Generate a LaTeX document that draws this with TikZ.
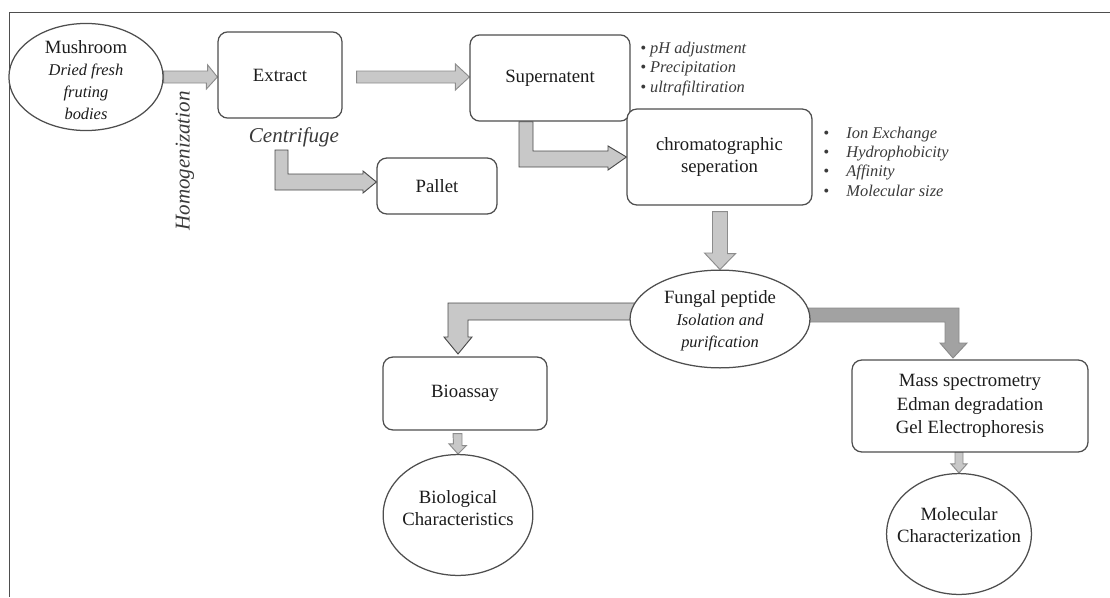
\documentclass[tikz,border=0pt]{standalone}
\usepackage{fontspec}
\setmainfont{Liberation Serif}
\usetikzlibrary{shapes.geometric,backgrounds,calc}

\definecolor{edgegray}{HTML}{4E4E4E}
\definecolor{inkgray}{HTML}{1C1C1C}
\definecolor{notegray}{HTML}{3A3A3A}
\definecolor{fatfill}{HTML}{C8C8C8}
\definecolor{fatedge}{HTML}{8C8C8C}
\definecolor{bentedge}{HTML}{4A4A4A}
\definecolor{fatdark}{HTML}{A2A2A2}

\newcommand{\bigtxt}{\fontsize{12}{14}\selectfont}
\newcommand{\subit}{\fontsize{10.5}{12.5}\selectfont\itshape}
\newcommand{\notetxt}{\fontsize{10.5}{12.4}\selectfont\itshape}
\newcommand{\steptxt}{\fontsize{13.5}{16}\selectfont\itshape}

\tikzset{
  stage/.style={draw=edgegray, line width=0.8pt, rounded corners=0.22cm,
    fill=white, align=center, inner sep=0pt, font=\bigtxt, text=inkgray},
  pod/.style={draw=edgegray, line width=0.8pt, ellipse, fill=white, inner sep=0pt},
  podtext/.style={align=center, inner sep=0pt, font=\bigtxt, text=inkgray},
  note/.style={align=left, inner sep=0pt, font=\notetxt, text=notegray},
  fat/.style={draw=fatedge, fill=fatfill, line width=0.6pt},
  bent/.style={fat, draw=bentedge},
  fatdarker/.style={fat, draw=fatdark!85!black, fill=fatdark}
}

\begin{document}
\begin{tikzpicture}[x=0.0225cm, y=-0.0225cm]
  \useasboundingbox (0,0) rectangle (1110,597);
  \draw[edgegray, line width=0.6pt] (1110,12) -- (9,12) -- (9,597);

  % first row
  \node[pod, minimum width=3.47cm, minimum height=2.41cm] (mushroom) at (86,77) {};
  \node[podtext] (mushroom text) at (86,80)
    {Mushroom\\{\subit Dried fresh}\\{\subit fruting}\\{\subit bodies}};
  \node[stage, minimum width=2.79cm, minimum height=1.94cm] (extract) at (280,75) {Extract};
  \node[stage, minimum width=3.6cm, minimum height=1.94cm] (supernatent) at (550,78) {Supernatent};
  \node[note, anchor=west] (treatments) at (640,69)
    {\textbullet\ pH adjustment\\\textbullet\ Precipitation\\\textbullet\ ultrafiltiration};

  \node[font=\steptxt, text=notegray, rotate=90] (homogenization) at (185,161) {Homogenization};
  \node[font=\steptxt, text=notegray] (centrifuge) at (294,137) {Centrifuge};
  \node[stage, minimum width=2.7cm, minimum height=1.26cm] (pallet) at (437,186) {Pallet};

  \node[stage, minimum width=4.16cm, minimum height=2.16cm] (chromato) at (719.5,157)
    {chromatographic\\seperation};
  \node[note, anchor=west] (columns) at (823,161.5)
    {\makebox[0.52cm][l]{\textbullet}Ion Exchange\\
     \makebox[0.52cm][l]{\textbullet}Hydrophobicity\\
     \makebox[0.52cm][l]{\textbullet}Affinity\\
     \makebox[0.52cm][l]{\textbullet}Molecular size};

  % peptide and its two branches
  \node[pod, minimum width=4.05cm, minimum height=2.2cm] (fungal) at (720,319) {};
  \node[podtext] (fungal text) at (720,321)
    {Fungal peptide\\{\subit Isolation and}\\{\subit purification}};
  \node[stage, minimum width=3.69cm, minimum height=1.64cm] (bioassay) at (465,393.5) {Bioassay};
  \node[pod, minimum width=3.37cm, minimum height=2.72cm] (biological) at (458,515) {};
  \node[podtext] (biological text) at (458,508) {Biological\\Characteristics};
  \node[stage, minimum width=5.31cm, minimum height=2.07cm] (methods) at (970,406)
    {Mass spectrometry\\[1pt]Edman degradation\\[1pt]Gel Electrophoresis};
  \node[pod, minimum width=3.26cm, minimum height=2.72cm] (molecular) at (959,534) {};
  \node[podtext] (molecular text) at (959,525) {Molecular\\Characterization};

  \begin{scope}[on background layer]
    \draw[fat] ($(mushroom.east)+(0,-6)$) -- ++(44,0) -- ++(0,-6)
      -- (extract.west |- mushroom.east) -- ++(-11,12) -- ++(0,-6)
      -- ($(mushroom.east)+(0,6)$) -- cycle;
    \draw[fat] ($(extract.east |- mushroom.east)+(14,-6)$)
      -- ($(supernatent.west |- mushroom.east)+(-14,-6)$) -- ++(0,-7)
      -- (supernatent.west |- mushroom.east) -- ++(-14,13) -- ++(0,-7)
      -- ($(extract.east |- mushroom.east)+(14,6)$) -- cycle;
    \draw[bent] (275,150) -- (288,150) -- (288,174) -- (363,174) -- (363,171)
      -- ($(pallet.west)+(0,-4)$) -- (363,193) -- (363,190) -- (275,190) -- cycle;
    \draw[bent] ($(supernatent.south)+(-31,0)$) -- ++(14,0) -- (533,151) -- (608,151)
      -- (608,146) -- (chromato.west) -- (608,170) -- (608,167) -- (519,167) -- cycle;
    \draw[fat] ($(chromato.south)+(-7,6)$) -- ++(15,0) -- ++(0,42) -- ++(8,0)
      -- (fungal.north) -- (704.5,253) -- (712.5,253) -- cycle;
    \draw[bent] (680,303) -- (448,303) -- (448,337) -- (444,337) -- (458,354)
      -- (472,337) -- (468,337) -- (468,320) -- (680,320) -- cycle;
    \draw[fatdarker] (760,308) -- (959,308) -- (959,343) -- (967,343) -- (953,358)
      -- (940,343) -- (945,343) -- (945,322) -- (760,322) -- cycle;
    \draw[fat] ($(bioassay.south)+(-12,3)$) -- ++(9,0) -- ++(0,12) -- ++(4.5,0)
      -- (biological.north) -- ++(-9,-10) -- ++(4.5,0) -- cycle;
    \draw[fat] ($(molecular.north)+(-4,-21)$) -- ++(8,0) -- ++(0,12) -- ++(4,0)
      -- (molecular.north) -- ++(-8,-9) -- ++(4,0) -- cycle;
  \end{scope}
\end{tikzpicture}
\end{document}
